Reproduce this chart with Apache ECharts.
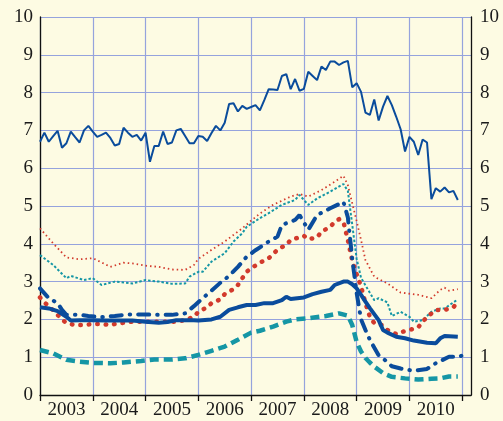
<!DOCTYPE html>
<html>
<head>
<meta charset="utf-8">
<script src="https://cdn.jsdelivr.net/npm/echarts@6/dist/echarts.min.js"></script>
<style>
  html, body { margin: 0; padding: 0; background: #fdfbe3; }
  #chart { width: 503px; height: 421px; }
</style>
</head>
<body>
<div id="chart"></div>
<script>
// 月份类目 2003-01 .. 2011-03
const years = ['2003', '2004', '2005', '2006', '2007', '2008', '2009', '2010', '2011']
const months = []
for (let i = 0; i < 99; i++) {
  months.push(years[Math.floor(i / 12)] + '-' + String(i % 12 + 1).padStart(2, '0'))
}
const yTicks = [0, 1, 2, 3, 4, 5, 6, 7, 8, 9, 10]

// 顶部细实线 (按月)
const topLine = [
  6.70, 6.94, 6.70, 6.85, 6.99, 6.54, 6.66, 6.97, 6.82, 6.68,
  7.00, 7.12, 6.97, 6.83, 6.88, 6.94, 6.80, 6.60, 6.64, 7.07,
  6.94, 6.83, 6.88, 6.73, 6.94, 6.17, 6.59, 6.59, 6.97, 6.64,
  6.68, 7.00, 7.04, 6.85, 6.66, 6.66, 6.85, 6.83, 6.72, 6.93,
  7.12, 7.00, 7.20, 7.70, 7.72, 7.50, 7.65, 7.57, 7.62, 7.67,
  7.53, 7.80, 8.09, 8.08, 8.07, 8.44, 8.49, 8.09, 8.36, 8.05,
  8.10, 8.55, 8.44, 8.33, 8.69, 8.60, 8.82, 8.82, 8.73, 8.80,
  8.84, 8.14, 8.25, 8.02, 7.47, 7.41, 7.82, 7.26, 7.63, 7.91,
  7.67, 7.36, 7.03, 6.44, 6.83, 6.70, 6.35, 6.76, 6.68, 5.18,
  5.47, 5.38, 5.49, 5.36, 5.40, 5.16
]

// 其余曲线: [月份序号, 数值]
const redThin = [
  [0, 4.41], [3, 4.01], [6, 3.64], [9, 3.59], [12, 3.62], [16, 3.39], [19, 3.50], [21, 3.48],
  [24, 3.42], [27, 3.39], [30, 3.32], [33, 3.31], [35, 3.44], [36, 3.60], [39, 3.84], [42, 4.06],
  [46, 4.41], [48, 4.61], [50, 4.80], [53, 5.03], [57, 5.25], [59, 5.32], [61, 5.25], [64, 5.42],
  [67, 5.64], [69, 5.80], [70, 5.55], [71, 5.07], [72, 4.60], [73, 4.10], [74, 3.57], [76, 3.13],
  [79, 2.95], [82, 2.71], [86, 2.65], [89, 2.56], [91, 2.78], [92, 2.84], [93, 2.76], [95, 2.80]
]
const tealThin = [
  [0, 3.70], [3, 3.44], [6, 3.09], [7, 3.15], [10, 3.04], [12, 3.09], [14, 2.91], [17, 3.00],
  [21, 2.95], [24, 3.04], [27, 3.00], [30, 2.94], [33, 2.95], [34, 3.13], [36, 3.26], [37, 3.26],
  [39, 3.53], [42, 3.75], [44, 4.06], [46, 4.28], [47, 4.45], [50, 4.68], [52, 4.81], [55, 5.03],
  [58, 5.16], [59, 5.29], [61, 5.03], [63, 5.20], [66, 5.38], [69, 5.58], [70, 5.40], [71, 4.50],
  [72, 3.60], [73, 3.10], [74, 2.90], [76, 2.51], [77, 2.56], [79, 2.45], [80, 2.09], [82, 2.20],
  [84, 2.07], [85, 1.94], [87, 1.98], [89, 2.20], [91, 2.29], [92, 2.29], [95, 2.53]
]
const dashDot = [
  [0, 2.82], [2, 2.56], [4, 2.43], [5, 2.25], [6, 2.12], [9, 2.12], [11, 2.09], [14, 2.06],
  [17, 2.09], [20, 2.13], [24, 2.13], [27, 2.12], [30, 2.12], [33, 2.16], [35, 2.35], [37, 2.56],
  [39, 2.76], [41, 2.97], [43, 3.15], [45, 3.39], [47, 3.66], [49, 3.83], [52, 4.06], [54, 4.19],
  [55, 4.50], [58, 4.63], [59, 4.76], [61, 4.37], [63, 4.76], [66, 4.94], [69, 5.11], [70, 4.70],
  [71, 3.60], [72, 2.70], [73, 2.00], [74, 1.72], [75, 1.46], [77, 1.05], [78, 0.97], [80, 0.76],
  [82, 0.70], [85, 0.64], [88, 0.69], [90, 0.84], [93, 1.01], [95, 1.01], [97, 1.07]
]
const redThick = [
  [0, 2.58], [1, 2.45], [3, 2.24], [5, 2.00], [6, 1.90], [8, 1.85], [10, 1.85], [12, 1.88],
  [14, 1.88], [16, 1.85], [17, 1.88], [19, 1.91], [21, 1.94], [25, 1.94], [28, 1.94], [31, 1.94],
  [33, 1.98], [35, 2.07], [36, 2.20], [38, 2.32], [39, 2.43], [41, 2.53], [42, 2.67], [44, 2.80],
  [45, 2.91], [46, 3.09], [47, 3.26], [48, 3.35], [50, 3.50], [52, 3.62], [53, 3.72], [54, 3.85],
  [56, 3.97], [57, 4.10], [60, 4.21], [61, 4.12], [63, 4.17], [64, 4.32], [66, 4.45], [67, 4.58],
  [68, 4.65], [69, 4.58], [70, 4.10], [71, 3.55], [72, 3.20], [73, 2.87], [74, 2.43], [75, 2.07],
  [76, 1.90], [78, 1.84], [79, 1.72], [81, 1.61], [82, 1.66], [84, 1.72], [86, 1.79], [87, 1.94],
  [88, 2.06], [90, 2.25], [92, 2.25], [94, 2.32], [95, 2.47]
]
const blueThick = [
  [0, 2.32], [2, 2.29], [4, 2.22], [6, 2.07], [7, 1.97], [9, 1.98], [12, 1.98], [15, 1.97],
  [18, 1.97], [21, 1.97], [24, 1.94], [27, 1.91], [29, 1.93], [31, 1.98], [35, 1.98], [36, 1.97],
  [39, 2.00], [41, 2.07], [43, 2.25], [45, 2.32], [47, 2.38], [49, 2.38], [51, 2.43], [53, 2.43],
  [55, 2.51], [56, 2.60], [57, 2.54], [60, 2.58], [62, 2.67], [64, 2.73], [66, 2.78], [67, 2.91],
  [69, 3.00], [70, 3.00], [71, 2.93], [72, 2.82], [73, 2.65], [74, 2.47], [75, 2.30], [77, 1.98],
  [78, 1.72], [79, 1.65], [81, 1.54], [83, 1.50], [85, 1.44], [88, 1.38], [90, 1.37], [91, 1.50],
  [92, 1.56], [95, 1.54]
]
const tealDashed = [
  [0, 1.19], [3, 1.10], [6, 0.93], [9, 0.88], [12, 0.85], [16, 0.84], [19, 0.86], [23, 0.90],
  [26, 0.94], [30, 0.94], [33, 0.97], [36, 1.06], [39, 1.17], [42, 1.28], [45, 1.46], [48, 1.65],
  [50, 1.70], [53, 1.81], [56, 1.94], [58, 2.00], [61, 2.03], [65, 2.09], [68, 2.16], [70, 2.10],
  [71, 1.85], [72, 1.40], [73, 1.15], [74, 0.98], [75, 0.86], [76, 0.75], [78, 0.58], [80, 0.48],
  [83, 0.44], [86, 0.41], [89, 0.43], [91, 0.44], [93, 0.49], [95, 0.49]
]

const BLUE = '#0a4c9c'
const RED = '#d23a2c'
const TEAL = '#1596a5'
const GRID = '#95a3dd'
const FONT = 'Liberation Serif'

const chart = echarts.init(document.getElementById('chart'))

const yAxisBase = {
  type: 'value',
  min: yTicks[0],
  max: yTicks[yTicks.length - 1],
  interval: 1,
  axisLine: { show: true, lineStyle: { color: '#111', width: 1.3 } },
  axisTick: { show: false },
  axisLabel: { fontFamily: FONT, fontSize: 19, color: '#1a1a1a' }
}

const line = (data, color, width, type, cap, z) => ({
  type: 'line',
  data: data,
  symbol: 'none',
  silent: true,
  z: z,
  lineStyle: { color: color, width: width, type: type, cap: cap || 'butt' }
})

chart.setOption({
  backgroundColor: '#fdfbe3',
  animation: false,
  grid: { left: 40, right: 32, top: 17, bottom: 26 },
  xAxis: {
    type: 'category',
    data: months,
    boundaryGap: false,
    axisLine: { lineStyle: { color: '#111', width: 1.3 } },
    axisTick: {
      interval: (i) => i % 12 === 0,
      length: 6,
      lineStyle: { color: '#111', width: 1.3 }
    },
    axisLabel: {
      interval: (i) => i % 12 === 6,
      formatter: (v) => v.slice(0, 4),
      fontFamily: FONT,
      fontSize: 19,
      color: '#1a1a1a',
      margin: 6
    },
    splitLine: {
      show: true,
      interval: (i) => i % 12 === 0,
      lineStyle: { color: GRID, width: 1.2 }
    }
  },
  yAxis: [
    Object.assign({}, yAxisBase, {
      position: 'left',
      axisLabel: Object.assign({}, yAxisBase.axisLabel, { margin: 7 }),
      splitLine: { show: true, lineStyle: { color: GRID, width: 1.2 } }
    }),
    Object.assign({}, yAxisBase, {
      position: 'right',
      axisLabel: Object.assign({}, yAxisBase.axisLabel, { margin: 9 }),
      splitLine: { show: false }
    })
  ],
  series: [
    line(topLine, BLUE, 2, 'solid', 'butt', 10),
    line(redThin, RED, 1.8, [1.5, 3], 'butt', 3),
    line(tealThin, TEAL, 2, [2.5, 2], 'butt', 4),
    line(tealDashed, TEAL, 4.5, [9, 5], 'butt', 5),
    line(redThick, RED, 4.5, [0.5, 8], 'round', 6),
    line(dashDot, BLUE, 4, [11, 8, 0.5, 8], 'round', 7),
    line(blueThick, BLUE, 4, 'solid', 'butt', 8)
  ]
})
</script>
</body>
</html>
